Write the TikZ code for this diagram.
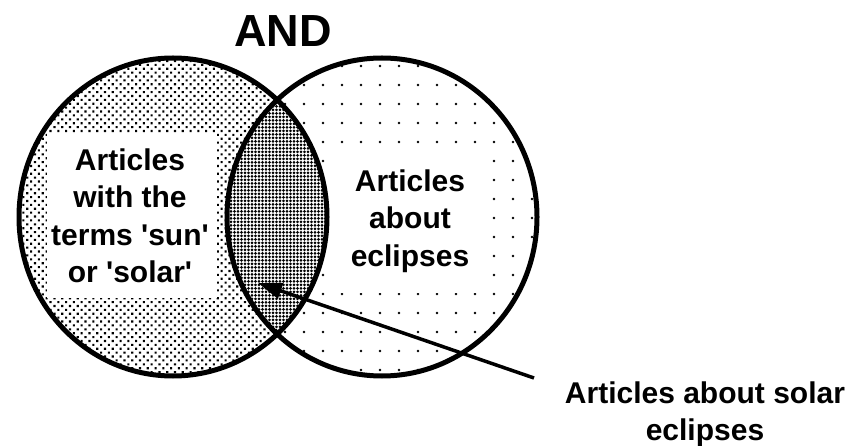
\documentclass[tikz,border=0pt]{standalone}
\usepackage{fontspec}
\setmainfont{Liberation Sans}
\usetikzlibrary{arrows.meta, patterns.meta}

\def\suncircle{(173,217) ellipse [x radius=154pt, y radius=159pt]}
\def\eclipsecircle{(382,217) ellipse [x radius=155pt, y radius=159pt]}

\begin{document}
\begin{tikzpicture}[x=1pt, y=-1pt, >={Triangle[length=24pt, width=16pt]},
  lbl/.style={font=\bfseries\fontsize{30}{37.5}\selectfont, align=center, inner sep=0pt},
  rim/.style={line width=5pt}]
  \useasboundingbox (0,0) rectangle (854,446);
  \fill[pattern={Dots[distance=19pt, radius=1.4pt]}] \eclipsecircle;
  \fill[pattern={Dots[distance=5.5pt, angle=45, radius=1.5pt]}] \suncircle;
  \begin{scope}
    \clip \suncircle;
    \fill[white] \eclipsecircle;
    \fill[pattern={Dots[distance=3.5pt, radius=1.5pt]}] \eclipsecircle;
  \end{scope}
  \fill[white] (47,133) rectangle (217,298);
  \fill[white] (335,155) rectangle (490,293);
  \draw[rim] \suncircle;
  \draw[rim] \eclipsecircle;
  \node[lbl, font=\bfseries\fontsize{45}{54}\selectfont] (and) at (283,31) {AND};
  \node[lbl] (sun) at (130,216) {Articles\\with the\\terms \textquotesingle sun\textquotesingle\\or \textquotesingle solar\textquotesingle};
  \node[lbl] (ecl) at (410,221) {Articles\\about\\eclipses};
  \node[lbl] (both) at (705,414) {Articles about solar\\eclipses};
  \coordinate (tail) at (534,378);
  \coordinate (tip) at (258,283);
  \draw[->, line width=3.5pt] (tail) -- (tip);
\end{tikzpicture}
\end{document}
